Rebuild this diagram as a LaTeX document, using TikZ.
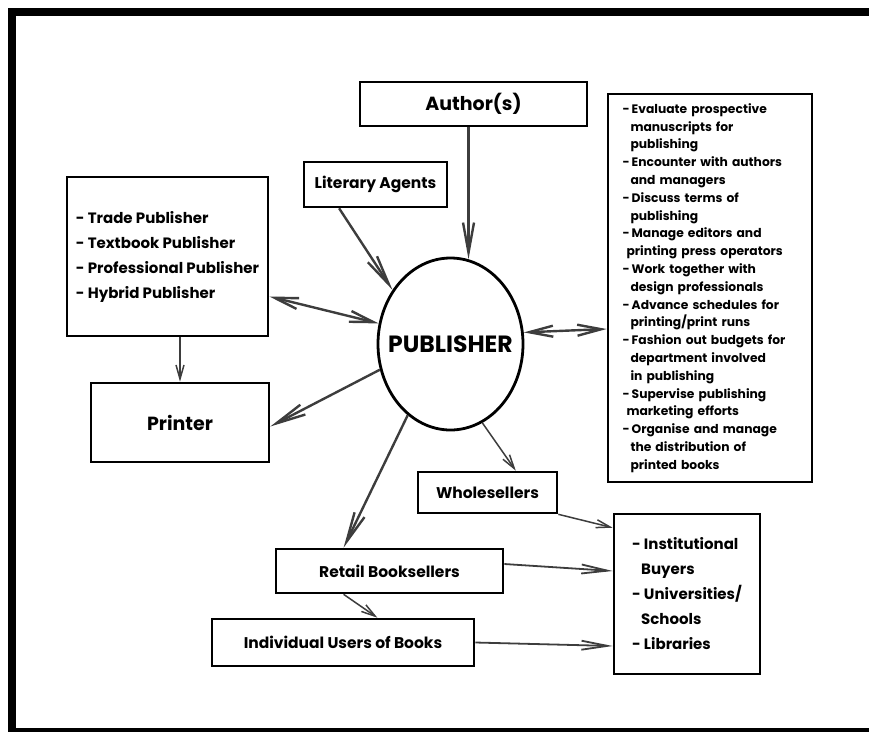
\documentclass[tikz,border=0pt]{standalone}
\usepackage{fontspec}
\setmainfont{Poppins}
\usepackage{xcolor}
\usetikzlibrary{
    arrows.meta,
    calc,
    shapes.geometric
}
\definecolor{linkgray}{HTML}{3D3D3D}
\tikzset{
    flow box/.style={
        draw=black,
        line width=2.6pt,
        align=center,
        inner sep=4pt,
        font=\fontsize{15.5}{25}\selectfont\bfseries
    },
    flow big/.style={flow box, font=\fontsize{19}{24}\selectfont\bfseries},
    flow list/.style={flow box, align=left, font=\fontsize{15}{25}\selectfont\bfseries},
    flow note/.style={flow box, align=left, font=\fontsize{12.3}{17.8}\selectfont\bfseries},
    flow hub/.style={flow box, ellipse, line width=2.8pt},
    flow hub text/.style={font=\fontsize{23.5}{28}\selectfont\bfseries},
    flow arrow/.style={-{Straight Barb[length=30pt,width=11pt]}, line width=2.4pt, draw=linkgray},
    flow both/.style={flow arrow, {Straight Barb[length=24pt,width=11pt]}-{Straight Barb[length=24pt,width=11pt]}},
    flow link/.style={-{Straight Barb[length=26pt,width=9pt]}, line width=1.8pt, draw=linkgray},
    flow thin/.style={-{Straight Barb[length=14pt,width=8pt]}, line width=1.5pt, draw=linkgray},
    page frame/.style={draw=black, line width=8pt}
}

\begin{document}
\begin{tikzpicture}[x=1pt, y=-1pt]
    \useasboundingbox (0,0) rectangle (869,731);
    \draw[page frame] (12,12) rectangle (900,732);

    \node[flow big, minimum width=227pt, minimum height=44pt] (author) at (473.5,104) {Author(s)};
    \node[flow box, minimum width=143pt, minimum height=45pt] (agents) at (375.5,184.5) {Literary Agents};
    \node[flow list, minimum width=201pt, minimum height=159pt] (types) at (167.5,256.5)
        {- Trade Publisher\\- Textbook Publisher\\- Professional Publisher\\- Hybrid Publisher};
    \node[flow big, minimum width=178pt, minimum height=79pt] (printer) at (180,422.5) {Printer};
    \node[flow hub, minimum width=145pt, minimum height=172pt, label={[flow hub text]center:PUBLISHER}] (publisher) at (450.5,344) {};

    \node[flow note, minimum width=204pt, minimum height=388pt, text width=175pt] (duties) at (710,288)
        {-\,Evaluate prospective\\\hspace*{8pt}manuscripts for\\\hspace*{8pt}publishing\\
         -\,Encounter with authors\\\hspace*{8pt}and managers\\
         -\,Discuss terms of\\\hspace*{8pt}publishing\\
         -\,Manage editors and\\\hspace*{4pt}printing press operators\\
         -\,Work together with\\\hspace*{8pt}design professionals\\
         -\,Advance schedules for\\\hspace*{8pt}printing/print runs\\
         -\,Fashion out budgets for\\\hspace*{8pt}department involved\\\hspace*{8pt}in publishing\\
         -\,Supervise publishing\\\hspace*{4pt}marketing efforts\\
         -\,Organise and manage\\\hspace*{8pt}the distribution of\\\hspace*{8pt}printed books};

    \node[flow box, minimum width=139pt, minimum height=41pt] (wholesale) at (487.5,492.5) {Wholesellers};
    \node[flow box, minimum width=227pt, minimum height=44pt] (retail) at (389.5,571) {Retail Booksellers};
    \node[flow box, minimum width=262pt, minimum height=47pt] (users) at (343,642.5) {Individual Users of Books};
    \node[flow list, minimum width=146pt, minimum height=160pt] (buyers) at (687,594)
        {- Institutional\\\hspace*{9pt}Buyers\\- Universities/\\\hspace*{9pt}Schools\\- Libraries};

    % into and out of the publisher
    \draw[flow arrow] (publisher.78 |- author.south) -- (publisher.78);
    \draw[flow arrow] ($(agents.south west)!0.25!(agents.south east)$) -- (publisher.137);
    \draw[flow both] ([yshift=-40pt]types.east) -- (publisher.164);
    \draw[flow arrow] (publisher.200) -- ([yshift=-4pt]printer.east);
    \draw[flow both] (publisher.9) -- ([yshift=-41pt]duties.west);
    \draw[flow arrow] (publisher.239) -- ($(retail.north west)!0.3!(retail.north east)$);
    \draw[flow thin] (publisher.292) -- ($(wholesale.north west)!0.7!(wholesale.north east)$);
    \draw[flow thin] (printer.north |- types.south) -- (printer.north);

    % down the supply chain
    \draw[flow thin] (wholesale.south east) -- ([yshift=-15pt]buyers.north west);
    \draw[flow link] ([yshift=7pt]retail.east) -- ([yshift=23pt]buyers.west);
    \draw[flow thin] ($(retail.south west)!0.3!(retail.south east)$) -- ($(users.north west)!0.63!(users.north east)$);
    \draw[flow link] (users.east) -- ([yshift=-52pt]buyers.west);
\end{tikzpicture}
\end{document}
